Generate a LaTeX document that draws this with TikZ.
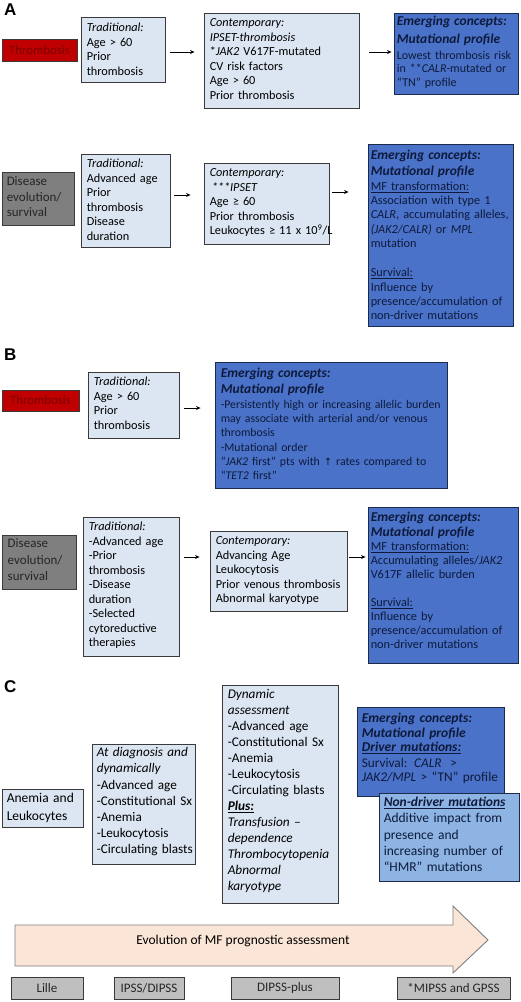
\documentclass[tikz,border=0pt]{standalone}
\usepackage{fontspec}
\setmainfont{Carlito}
\newfontfamily\labfont{Liberation Sans}
\newfontfamily\symfont{DejaVu Sans}
\usetikzlibrary{arrows.meta,fit}
\setlength{\parindent}{0pt}
\definecolor{lightfill}{HTML}{DCE6F2}
\definecolor{boxline}{HTML}{3A3A3A}
\definecolor{emfill}{HTML}{4A72C8}
\definecolor{emline}{HTML}{1C2A4A}
\definecolor{emtext}{HTML}{0E1A3C}
\definecolor{ndfill}{HTML}{8EB4E3}
\definecolor{redfill}{HTML}{C00000}
\definecolor{redtext}{HTML}{7A0000}
\definecolor{grayfill}{HTML}{7F7F7F}
\definecolor{graytext}{HTML}{262626}
\definecolor{tabfill}{HTML}{BFBFBF}
\definecolor{arrowfill}{HTML}{FBE5D6}
\definecolor{arrowline}{HTML}{7F7F7F}
\newcommand\fst{\rule{0pt}{10pt}}
\newcommand\fsA{\fontsize{12.3}{14.5}\selectfont}
\newcommand\fsC{\fontsize{13.2}{16.2}\selectfont}
\newcommand\hd{\fontsize{13.5}{14.5}\selectfont\bfseries\itshape}
\newcommand\uparr{{\symfont\fontsize{10}{12}\selectfont ↑}}
\begin{document}
\begin{tikzpicture}[x=1pt,y=-1pt,
  lbox/.style={draw=boxline, fill=lightfill, line width=0.9pt, inner sep=0pt},
  ebox/.style={draw=emline, fill=emfill, line width=0.9pt, inner sep=0pt},
  ndbox/.style={draw=emline, fill=ndfill, line width=0.9pt, inner sep=0pt},
  redbox/.style={draw=boxline, fill=redfill, line width=0.9pt, inner sep=0pt},
  graybox/.style={draw=boxline, fill=grayfill, line width=0.9pt, inner sep=0pt},
  tabbox/.style={draw=boxline, fill=tabfill, line width=0.9pt, inner sep=0pt},
  txt/.style={anchor=north west, inner sep=0pt, text width=300pt, align=left, text=black},
  etxt/.style={txt, text=emtext},
  lab/.style={anchor=north west, inner sep=0pt, font=\labfont\bfseries\fontsize{17}{20}\selectfont},
  conn/.style={-{Stealth[length=4.5pt,width=4pt]}, line width=0.8pt, black},
  bigarrow/.style={draw=arrowline, fill=arrowfill, line width=0.9pt, line join=miter}
]
\fill[white] (0,0) rectangle (520,1002);
\useasboundingbox (0,0) rectangle (520,1002);

% ---------------- Panel A ----------------
\node[lab] (labA) at (4,4) {A};
\node[redbox, fit={(2,39)(77,61)}] (a1l) {};
\node[text=redtext, font=\upshape\fontsize{12.8}{14}\selectfont, inner sep=0pt] (a1lt) at (a1l.center) {Thrombosis};
\node[lbox, fit={(81,17)(165,82)}] (a1t) {};
\node[txt, font=\fsA] (a1tt) at ([shift={(6,5)}]a1t.north west)
  {\fst{\itshape Traditional:}\\Age > 60\\Prior\\thrombosis};
\node[lbox, fit={(204,13)(359,108)}] (a1c) {};
\node[txt, font=\fsA] (a1ct) at ([shift={(6,4)}]a1c.north west)
  {\fst{\itshape Contemporary:}\\{\itshape IPSET-thrombosis}\\{}*\textit{JAK2} V617F-mutated\\CV risk factors\\Age > 60\\Prior thrombosis};
\node[ebox, fit={(394,13)(518,94)}] (a1e) {};
\node[etxt, font=\fontsize{12}{13.2}\selectfont] (a1et) at ([shift={(3,3)}]a1e.north west)
  {\fst{\hd Emerging concepts:}\\[5pt]{\hd Mutational profile}\\[2.5pt]Lowest thrombosis risk\\in **\textit{CALR}-mutated or\\“TN” profile};
\draw[conn, shorten <=5pt, shorten >=9pt] (a1t.east |- 0,52) -- (a1c.west |- 0,52);
\draw[conn, shorten <=10pt, shorten >=2pt] (a1c.east |- 0,52) -- (a1e.west |- 0,52);

\node[graybox, fit={(2,172)(74,225)}] (a2l) {};
\node[txt, text=graytext, font=\fontsize{13}{15.8}\selectfont] (a2lt) at ([shift={(5,3.5)}]a2l.north west)
  {\fst Disease\\evolution/\\survival};
\node[lbox, fit={(81,154)(170,247)}] (a2t) {};
\node[txt, font=\fsA] (a2tt) at ([shift={(6,4)}]a2t.north west)
  {\fst{\itshape Traditional:}\\Advanced age\\Prior\\thrombosis\\Disease\\duration};
\node[lbox, fit={(204,163)(329,244)}] (a2c) {};
\node[txt, font=\fsA] (a2ct) at ([shift={(6,4)}]a2c.north west)
  {\fst{\itshape Contemporary:}\\\hspace*{2pt}{\itshape ***IPSET}\\Age ≥ 60\\Prior thrombosis\\Leukocytes ≥ 11 x 10\textsuperscript{9}/L};
\node[ebox, fit={(368,144)(513,326)}] (a2e) {};
\node[etxt, font=\fontsize{12.3}{14.3}\selectfont] (a2et) at ([shift={(3,6)}]a2e.north west)
  {\fst{\hd Emerging concepts:}\\[1.5pt]{\hd Mutational profile}\\[0.5pt]\underline{MF transformation:}\\Association with type 1\\\textit{CALR}, accumulating alleles,\\\textit{(JAK2/CALR)} or \textit{MPL}\\mutation\\[15pt]\underline{Survival:}\\Influence by\\presence/accumulation of\\non-driver mutations};
\draw[conn, shorten <=4pt, shorten >=13pt] (a2t.east |- 0,195) -- (a2c.west |- 0,195);
\draw[conn, shorten <=3pt, shorten >=19pt] (a2c.east |- 0,192) -- (a2e.west |- 0,192);

% ---------------- Panel B ----------------
\node[lab] (labB) at (4,349) {B};
\node[redbox, fit={(2,390)(79,411)}] (b1l) {};
\node[text=redtext, font=\upshape\fontsize{12.8}{14}\selectfont, inner sep=0pt] (b1lt) at (b1l.center) {Thrombosis};
\node[lbox, fit={(88,372)(179,438)}] (b1t) {};
\node[txt, font=\fsA] (b1tt) at ([shift={(6,4)}]b1t.north west)
  {\fst{\itshape Traditional:}\\Age > 60\\Prior\\thrombosis};
\node[ebox, fit={(215,362)(447,488)}] (b1e) {};
\node[etxt, font=\fontsize{11.8}{14.3}\selectfont] (b1et) at ([shift={(6,6)}]b1e.north west)
  {\fst{\hd Emerging concepts:}\\[1.5pt]{\hd Mutational profile}\\[0.5pt]-Persistently high or increasing allelic burden\\may associate with arterial and/or venous\\thrombosis\\-Mutational order\\“\textit{JAK2} first” pts with \uparr\ rates compared to\\“\textit{TET2} first”};
\draw[conn, shorten <=5pt, shorten >=14pt] (b1t.east |- 0,408) -- (b1e.west |- 0,408);

\node[graybox, fit={(2,535)(76,589)}] (b2l) {};
\node[txt, text=graytext, font=\fontsize{13}{16.3}\selectfont] (b2lt) at ([shift={(6,3)}]b2l.north west)
  {\fst Disease\\evolution/\\survival};
\node[lbox, fit={(83,517)(179,656)}] (b2t) {};
\node[txt, font=\fsA] (b2tt) at ([shift={(6,4)}]b2t.north west)
  {\fst{\itshape Traditional:}\\-Advanced age\\-Prior\\thrombosis\\-Disease\\duration\\-Selected\\cytoreductive\\therapies};
\node[lbox, fit={(210,531)(347,611)}] (b2c) {};
\node[txt, font=\fsA] (b2ct) at ([shift={(6,4)}]b2c.north west)
  {\fst{\itshape Contemporary:}\\Advancing Age\\Leukocytosis\\Prior venous thrombosis\\Abnormal karyotype};
\node[ebox, fit={(368,507)(518,663)}] (b2e) {};
\node[etxt, font=\fontsize{12.3}{14}\selectfont] (b2et) at ([shift={(3,5)}]b2e.north west)
  {\fst{\hd Emerging concepts:}\\[1pt]{\hd Mutational profile}\\\underline{MF transformation:}\\Accumulating alleles/\textit{JAK2}\\V617F allelic burden\\[14pt]\underline{Survival:}\\Influence by\\presence/accumulation of\\non-driver mutations};
\draw[conn, shorten <=5pt, shorten >=10pt] (b2t.east |- 0,557) -- (b2c.west |- 0,557);
\draw[conn, shorten <=2pt, shorten >=2pt] (b2c.east |- 0,557) -- (b2e.west |- 0,557);

% ---------------- Panel C ----------------
\node[lab] (labC) at (4,680) {C};
\node[lbox, fit={(2,789)(83,827)}] (c1) {};
\node[txt, font=\fontsize{13.5}{17.5}\selectfont] (c1t) at ([shift={(5,4)}]c1.north west)
  {\fst Anemia and\\Leukocytes};
\node[lbox, fit={(92,744)(195,864)}] (c2) {};
\node[txt, font=\fsC] (c2t) at ([shift={(5,3)}]c2.north west)
  {\fst{\itshape At diagnosis and}\\{\itshape dynamically}\\-Advanced age\\-Constitutional Sx\\-Anemia\\-Leukocytosis\\-Circulating blasts};
\node[lbox, fit={(222,685)(338,903)}] (c3) {};
\node[txt, font=\fontsize{13.3}{16}\selectfont] (c3t) at ([shift={(6,4)}]c3.north west)
  {\fst{\itshape Dynamic}\\{\itshape assessment}\\-Advanced age\\-Constitutional Sx\\-Anemia\\-Leukocytosis\\-Circulating blasts\\{\bfseries\itshape\underline{Plus:}}\\{\itshape Transfusion –}\\{\itshape dependence}\\{\itshape Thrombocytopenia}\\{\itshape Abnormal}\\{\itshape karyotype}};
\node[ebox, fit={(357,707)(504,796)}] (c4) {};
\node[etxt, font=\fontsize{13.3}{14.3}\selectfont] (c4t) at ([shift={(5,6)}]c4.north west)
  {\fst{\hd Emerging concepts:}\\{\hd Mutational profile}\\{\hd\underline{Driver mutations:}}\\[1.5pt]Survival: \textit{CALR} \ >\\\textit{JAK2/MPL} > “TN” profile};
\node[ndbox, fit={(379,793)(519,881)}] (c5) {};
\node[etxt, font=\fontsize{13.5}{16.2}\selectfont] (c5t) at ([shift={(5,4)}]c5.north west)
  {\fst{\hd\underline{Non-driver mutations}}\\Additive impact from\\presence and\\increasing number of\\“HMR” mutations};

% ---------------- Evolution arrow ----------------
\draw[bigarrow] (15,925) -- (453,925) -- (453,906) -- (488,940) -- (453,973) -- (453,966) -- (15,966) -- cycle;
\node[font=\fontsize{13.5}{16}\selectfont, inner sep=0pt] (evo) at (243,941) {Evolution of MF prognostic assessment};

\node[tabbox, fit={(11,977)(83,999)}] (t1) {};
\node[font=\fontsize{13}{15}\selectfont, inner sep=0pt, text=graytext] (t1t) at (t1.center) {Lille};
\node[tabbox, fit={(114,977)(184,999)}] (t2) {};
\node[font=\fontsize{13}{15}\selectfont, inner sep=0pt, text=graytext] (t2t) at (t2.center) {IPSS/DIPSS};
\node[tabbox, fit={(231,977)(339,999)}] (t3) {};
\node[font=\fontsize{13}{15}\selectfont, inner sep=0pt, text=graytext] (t3t) at (t3.center) {DIPSS-plus};
\node[tabbox, fit={(397,977)(510,999)}] (t4) {};
\node[font=\fontsize{13}{15}\selectfont, inner sep=0pt, text=graytext] (t4t) at (t4.center) {*MIPSS and GPSS};
\end{tikzpicture}
\end{document}
